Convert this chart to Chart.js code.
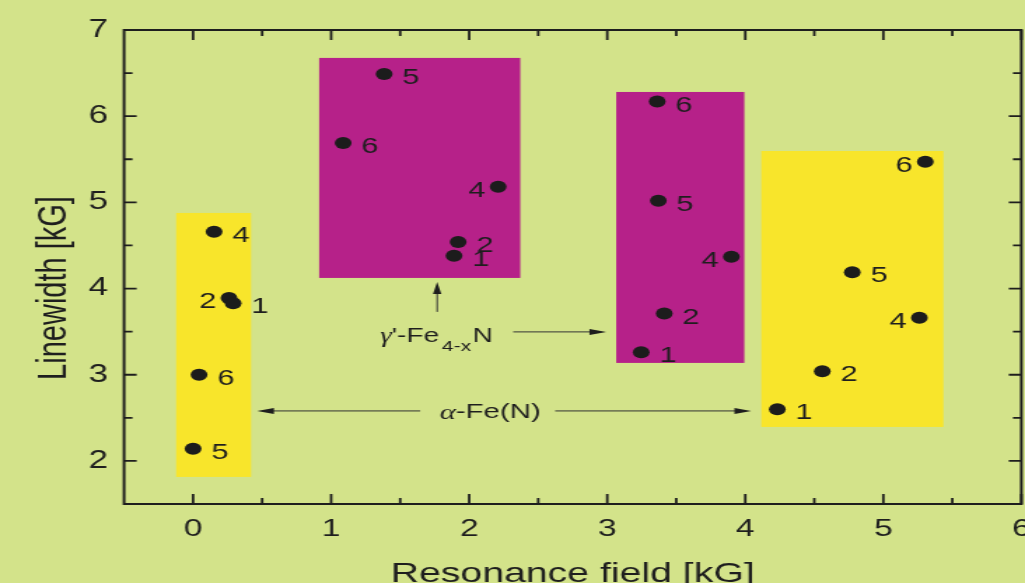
<!DOCTYPE html>
<html>
<head>
<meta charset="utf-8">
<script src="https://cdn.jsdelivr.net/npm/chart.js@4/dist/chart.umd.min.js"></script>
<style>
  html, body { margin: 0; padding: 0; background: #d3e38a; overflow: hidden; }
  /* the original figure is stretched sideways, so the chart is drawn narrow and widened */
  #wrap { width: 732px; height: 583px; transform: scaleX(1.40027); transform-origin: 0 0; }
</style>
</head>
<body>
<div id="wrap"><canvas id="myChart"></canvas></div>
<script>
// tick labels
var xTicks = [0, 1, 2, 3, 4, 5, 6];
var yTicks = [2, 3, 4, 5, 6, 7];

// alpha-Fe(N), low field
var alphaLowX = [0.152, 0.26, 0.29, 0.043, 0.0];
var alphaLowY = [4.66, 3.89, 3.83, 3.0, 2.14];
var alphaLowId = ['4', '2', '1', '6', '5'];

// gamma'-Fe4-xN, low field
var gammaLowX = [1.384, 1.087, 2.21, 1.92, 1.89];
var gammaLowY = [6.49, 5.69, 5.18, 4.54, 4.38];
var gammaLowId = ['5', '6', '4', '2', '1'];

// gamma'-Fe4-xN, high field
var gammaHighX = [3.362, 3.37, 3.899, 3.413, 3.246];
var gammaHighY = [6.17, 5.02, 4.37, 3.71, 3.26];
var gammaHighId = ['6', '5', '4', '2', '1'];

// alpha-Fe(N), high field
var alphaHighX = [5.304, 4.775, 5.261, 4.558, 4.232];
var alphaHighY = [5.47, 4.19, 3.66, 3.04, 2.60];
var alphaHighId = ['6', '5', '4', '2', '1'];

// shaded ranges of each group
var boxXMin = [-0.123, 0.913, 3.065, 4.116];
var boxXMax = [0.42, 2.37, 3.993, 5.435];
var boxYMin = [1.814, 4.123, 3.137, 2.394];
var boxYMax = [4.877, 6.676, 6.281, 5.596];
var boxPhase = ['alpha', 'gamma', 'gamma', 'alpha'];

// annotation arrows (tail -> head), in axis units
var arrowX0 = [1.768, 2.319, 1.645, 2.623];
var arrowY0 = [3.729, 3.497, 2.58, 2.58];
var arrowX1 = [1.768, 2.993, 0.464, 4.043];
var arrowY1 = [4.077, 3.497, 2.58, 2.58];

var FONT = "'Liberation Sans', Arial, Helvetica, sans-serif";
var SERIF = "'Liberation Serif', 'DejaVu Serif', serif";
var INK = '#1e1e1e';

var groups = [
  { x: alphaLowX, y: alphaLowY, id: alphaLowId, left: ['2'] },
  { x: gammaLowX, y: gammaLowY, id: gammaLowId, left: ['4'] },
  { x: gammaHighX, y: gammaHighY, id: gammaHighId, left: ['4'] },
  { x: alphaHighX, y: alphaHighY, id: alphaHighId, left: ['6', '4'] }
];

function pts(xs, ys) {
  return xs.map(function (x, i) { return { x: x, y: ys[i] }; });
}

function arrow(ctx, x0, y0, x1, y1) {
  var ang = Math.atan2(y1 - y0, x1 - x0), L = 12, W = 3;
  var c = Math.cos(ang), s = Math.sin(ang);
  ctx.beginPath();
  ctx.moveTo(x0, y0);
  ctx.lineTo(x1 - L * 0.7 * c, y1 - L * 0.7 * s);
  ctx.stroke();
  ctx.beginPath();
  ctx.moveTo(x1, y1);
  ctx.lineTo(x1 - L * c + W * s, y1 - L * s - W * c);
  ctx.lineTo(x1 - L * c - W * s, y1 - L * s + W * c);
  ctx.closePath();
  ctx.fill();
}

var boxesPlugin = {
  id: 'boxes',
  beforeDatasetsDraw: function (chart) {
    var ctx = chart.ctx, sx = chart.scales.x, sy = chart.scales.y;
    ctx.save();
    for (var i = 0; i < boxXMin.length; i++) {
      var x0 = sx.getPixelForValue(boxXMin[i]), x1 = sx.getPixelForValue(boxXMax[i]);
      var y0 = sy.getPixelForValue(boxYMax[i]), y1 = sy.getPixelForValue(boxYMin[i]);
      ctx.fillStyle = boxPhase[i] == 'alpha' ? '#f8e52b' : '#b62189';
      ctx.fillRect(x0, y0, x1 - x0, y1 - y0);
    }
    ctx.restore();
  }
};

var extrasPlugin = {
  id: 'extras',
  afterDatasetsDraw: function (chart) {
    var ctx = chart.ctx, a = chart.chartArea, sx = chart.scales.x, sy = chart.scales.y;
    ctx.save();

    // frame with inward ticks on all four sides
    ctx.strokeStyle = INK;
    ctx.lineWidth = 2;
    ctx.strokeRect(a.left, a.top, a.right - a.left, a.bottom - a.top);
    ctx.lineWidth = 1.8;
    ctx.beginPath();
    xTicks.forEach(function (v) {
      var p = sx.getPixelForValue(v);
      ctx.moveTo(p, a.bottom); ctx.lineTo(p, a.bottom - 10);
      ctx.moveTo(p, a.top); ctx.lineTo(p, a.top + 10);
      if (v + 0.5 < 6) {
        var m = sx.getPixelForValue(v + 0.5);
        ctx.moveTo(m, a.bottom); ctx.lineTo(m, a.bottom - 6);
        ctx.moveTo(m, a.top); ctx.lineTo(m, a.top + 6);
      }
    });
    yTicks.forEach(function (v) {
      var p = sy.getPixelForValue(v);
      ctx.moveTo(a.left, p); ctx.lineTo(a.left + 9, p);
      ctx.moveTo(a.right, p); ctx.lineTo(a.right - 9, p);
      if (v + 0.5 < 7) {
        var m = sy.getPixelForValue(v + 0.5);
        ctx.moveTo(a.left, m); ctx.lineTo(a.left + 6, m);
        ctx.moveTo(a.right, m); ctx.lineTo(a.right - 6, m);
      }
    });
    ctx.stroke();

    // sample numbers next to the points
    ctx.fillStyle = INK;
    ctx.font = '22px ' + FONT;
    ctx.textBaseline = 'middle';
    groups.forEach(function (g) {
      g.x.forEach(function (x, i) {
        var px = sx.getPixelForValue(x), py = sy.getPixelForValue(g.y[i]);
        if (g.left.indexOf(g.id[i]) >= 0) {
          ctx.textAlign = 'right';
          ctx.fillText(g.id[i], px - 9, py + 4);
        } else {
          ctx.textAlign = 'left';
          ctx.fillText(g.id[i], px + 13, py + 4);
        }
      });
    });

    // arrows
    ctx.strokeStyle = '#333';
    ctx.fillStyle = '#1e1e1e';
    ctx.lineWidth = 1;
    for (var i = 0; i < arrowX0.length; i++) {
      arrow(ctx, sx.getPixelForValue(arrowX0[i]), sy.getPixelForValue(arrowY0[i]),
        sx.getPixelForValue(arrowX1[i]), sy.getPixelForValue(arrowY1[i]));
    }

    // phase labels
    ctx.fillStyle = INK;
    var gx = sx.getPixelForValue(1.355), gy = sy.getPixelForValue(3.381);
    ctx.textAlign = 'left';
    ctx.textBaseline = 'alphabetic';
    ctx.font = 'italic 21px ' + SERIF;
    ctx.fillText('\u03b3', gx, gy);
    var w0 = ctx.measureText('\u03b3').width;
    ctx.font = '20px ' + FONT;
    ctx.fillText("'-Fe", gx + w0, gy);
    var w1 = w0 + ctx.measureText("'-Fe").width + 2;
    ctx.font = '15px ' + FONT;
    ctx.fillText('4-x', gx + w1, gy + 9);
    var w2 = ctx.measureText('4-x').width + 1;
    ctx.font = '20px ' + FONT;
    ctx.fillText('N', gx + w1 + w2, gy);

    var ax = sx.getPixelForValue(2.152), ay = sy.getPixelForValue(2.57);
    ctx.textBaseline = 'middle';
    ctx.font = 'italic 22px ' + SERIF;
    var wa = ctx.measureText('\u03b1').width;
    ctx.font = '21px ' + FONT;
    var wr = ctx.measureText('-Fe(N)').width;
    var ax0 = ax - (wa + wr) / 2;
    ctx.font = 'italic 22px ' + SERIF;
    ctx.fillText('\u03b1', ax0, ay + 1);
    ctx.font = '21px ' + FONT;
    ctx.fillText('-Fe(N)', ax0 + wa, ay);

    // axis titles
    ctx.textAlign = 'center';
    ctx.font = '28px ' + FONT;
    ctx.textBaseline = 'alphabetic';
    ctx.fillText('Resonance field [kG]', (a.left + a.right) / 2, 582);
    ctx.translate(38.6, 288);
    ctx.rotate(-Math.PI / 2);
    ctx.font = '29px ' + FONT;
    ctx.textBaseline = 'middle';
    ctx.fillText('Linewidth [kG]', 0, 0);

    ctx.restore();
  }
};

new Chart('myChart', {
  type: 'scatter',
  data: {
    datasets: groups.map(function (g) {
      return {
        data: pts(g.x, g.y),
        pointRadius: 6,
        pointHoverRadius: 6,
        backgroundColor: '#1c1c1c',
        borderWidth: 0
      };
    })
  },
  options: {
    responsive: true,
    maintainAspectRatio: false,
    animation: false,
    layout: { autoPadding: false, padding: { top: 30, right: 2.6, left: 0, bottom: 0 } },
    plugins: { legend: { display: false }, tooltip: { enabled: false } },
    scales: {
      x: {
        type: 'linear', min: -0.5, max: 6,
        grid: { display: false, drawTicks: false },
        border: { display: false },
        afterBuildTicks: function (s) { s.ticks = xTicks.map(function (v) { return { value: v }; }); },
        afterFit: function (s) { s.height = 79; s.paddingLeft = 0; s.paddingRight = 0; },
        ticks: { color: INK, font: { family: FONT, size: 24 }, padding: 11, maxRotation: 0, autoSkip: false }
      },
      y: {
        type: 'linear', min: 1.5, max: 7,
        grid: { display: false, drawTicks: false },
        border: { display: false },
        afterBuildTicks: function (s) { s.ticks = yTicks.map(function (v) { return { value: v }; }); },
        afterFit: function (s) { s.width = 88.6; s.paddingTop = 0; s.paddingBottom = 0; },
        ticks: { color: INK, font: { family: FONT, size: 25 }, padding: 11.5, autoSkip: false }
      }
    }
  },
  plugins: [boxesPlugin, extrasPlugin]
});
</script>
</body>
</html>
